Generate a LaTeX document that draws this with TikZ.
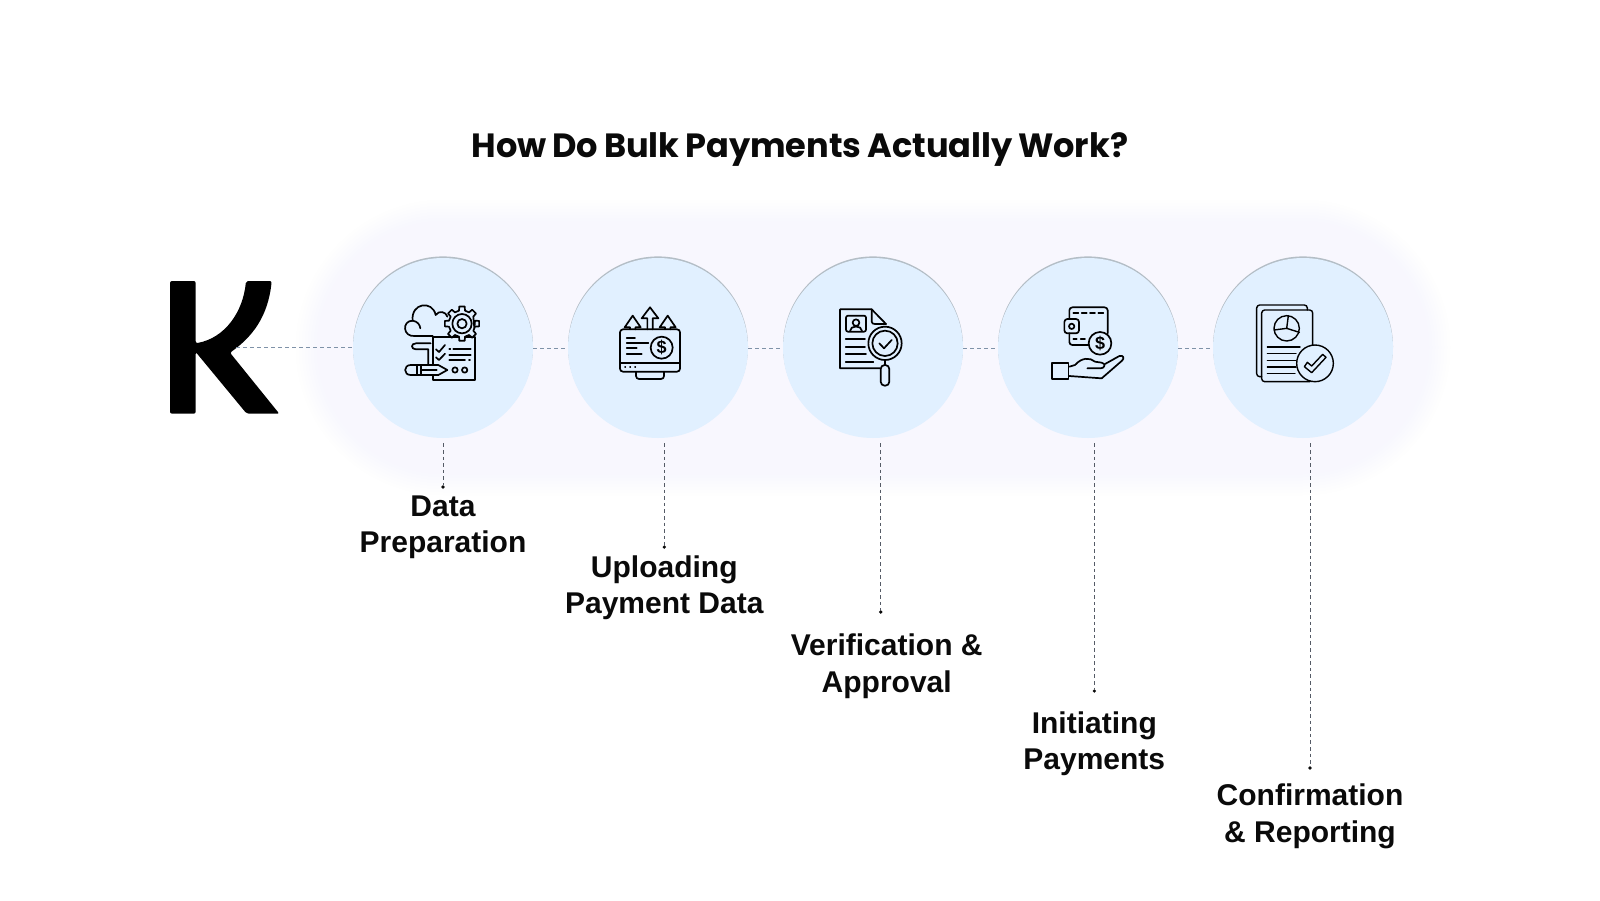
\documentclass[tikz,border=0pt]{standalone}
\usepackage{fontspec}
\usetikzlibrary{positioning}
\newfontfamily\titlefont[WordSpace=0.8]{Poppins}
\newfontfamily\labelfont{Liberation Sans}
\definecolor{bubblefill}{HTML}{E1F0FF}
\definecolor{bubblerim}{HTML}{B4BEC6}
\definecolor{glowfill}{HTML}{F8F7FE}
\definecolor{linkgray}{HTML}{7F92A8}
\definecolor{dropgray}{HTML}{555B66}
\definecolor{inkblack}{HTML}{0A0A0A}
\tikzset{
  bubble/.style={circle,minimum size=90pt,inner sep=0pt,fill=bubblefill,
    preaction={fill=bubblerim,transform canvas={yshift=0.8pt}}},
  link/.style={draw=linkgray,line width=0.45pt,dash pattern=on 2pt off 1.5pt},
  droplink/.style={draw=dropgray,line width=0.45pt,dash pattern=on 1.8pt off 1.5pt,shorten <=2.5pt},
  dotmark/.style={circle,fill=inkblack,minimum size=1.8pt,inner sep=0pt},
  steplabel/.style={font=\labelfont\bfseries\fontsize{15}{18.3}\selectfont,
    text=inkblack,align=center,inner sep=0pt},
  icon/.style={x=0.16667pt,y=-0.16667pt,draw=black,line width=0.85pt,
    line join=round,line cap=round},
  coin/.style={font=\labelfont\bfseries\fontsize{9}{9}\selectfont,inner sep=0pt}
}
\begin{document}
\begin{tikzpicture}[x=0.5pt,y=-0.5pt]
      \useasboundingbox (0,0) rectangle (1600,900);
      \fill[white] (0,0) rectangle (1600,900);
      \foreach \g [evaluate=\g as \r using 74-\g*1.5] in {0,...,29}
        \fill[glowfill,opacity=0.07,rounded corners=\r pt]
          (296+\g*3,200+\g*3) rectangle (1450-\g*3,495-\g*3);

      \fill[black,rounded corners=1pt]
        (170,281) -- (195.7,281) -- (195.7,343.3)
        .. controls (225,338) and (243,312) .. (246,281) -- (271.7,281)
        .. controls (268,317) and (252,337) .. (230,352.7)
        -- (279.3,413.7) -- (246.7,413.7) -- (195.7,352) -- (195.7,413.7)
        -- (170,413.7) -- cycle;
      \coordinate (logo) at (236,347.5);

      \node (c1) [bubble] at (443,348) {};
      \node (c2) [bubble] at (658,348) {};
      \node (c3) [bubble] at (873,348) {};
      \node (c4) [bubble] at (1088,348) {};
      \node (c5) [bubble] at (1303,348) {};

      \node (d1) [dotmark] at (443,487) {};
      \node (d2) [dotmark] at (664.3,547) {};
      \node (d3) [dotmark] at (880.7,612) {};
      \node (d4) [dotmark] at (1094.3,691) {};
      \node (d5) [dotmark] at (1310,768) {};

      \node (title) [anchor=base,font=\titlefont\bfseries\fontsize{16.8}{20}\selectfont,
        text=inkblack,inner sep=0pt] at (800,157) {How Do Bulk Payments Actually Work?};

      \node (t1) [steplabel,below=2.9pt of d1] {Data\\Preparation};
      \node (t2) [steplabel,below=2.9pt of d2] {Uploading\\Payment Data};
      \node (t3) [steplabel,below=9.7pt of d3,xshift=3pt] {Verification \&\\Approval};
      \node (t4) [steplabel,below=8.9pt of d4] {Initiating\\Payments};
      \node (t5) [steplabel,below=6.7pt of d5] {Confirmation\\\& Reporting};

      \begin{scope}[link]
        \draw (logo) to (logo -| c1.west);
        \draw (c1.east) to (c2.west);
        \draw (c2.east) to (c3.west);
        \draw (c3.east) to (c4.west);
        \draw (c4.east) to (c5.west);
      \end{scope}
      \begin{scope}[droplink]
        \draw (d1 |- c1.south) to (d1);
        \draw (d2 |- c2.south) to (d2);
        \draw (d3 |- c3.south) to (d3);
        \draw (d4 |- c4.south) to (d4);
        \draw (d5 |- c5.south) to (d5);
      \end{scope}

      \begin{scope}[shift={(340,250)},icon]
        \draw (278,262) -- (405,262) -- (405,390) -- (278,390) -- (278,375);
        \draw (278,262) -- (278,345);
        \draw (225,258) .. controls (188,262) and (185,212) .. (218,212)
          .. controls (212,158) and (278,150) .. (287,195)
          .. controls (297,180) and (318,185) .. (322,200);
        \draw (218,212) .. controls (232,214) and (240,224) .. (241,235);
        \draw (225,258) -- (278,258);
        \draw (272,280) -- (228,280) .. controls (212,280) and (212,298) .. (228,298)
          -- (265,298) -- (265,345);
        \draw (288,298) -- (297,306) -- (315,285);
        \draw (288,322) -- (297,330) -- (315,311);
        \draw (340,298) -- (392,298);
        \draw (328,298) -- (331,298);
        \draw (328,315) -- (392,315);
        \draw (328,331) -- (375,331);
        \draw (387,331) -- (390,331);
        \draw (345,360) circle (8);
        \draw (374,360) circle (8);
        \draw[fill=bubblefill] (212,345) -- (295,345) -- (322,360) -- (295,375) -- (212,375)
          .. controls (190,375) and (190,345) .. (212,345) -- cycle;
        \draw (230,345) -- (230,375);
        \draw (243,345) -- (243,375);
        \draw (243,360) -- (290,360);
        \begin{scope}[shift={(366,221)}]
          \draw[fill=bubblefill] (22:40) \foreach \a in {0,45,...,315} {
            -- (\a-13:40) -- (\a-9:52) -- (\a+9:52) -- (\a+13:40)} -- cycle;
          \draw (0,0) circle (29);
          \draw (0,0) circle (14);
        \end{scope}

        \draw[rounded corners=1.5pt] (840,238) rectangle (1020,365);
        \draw (840,340) -- (1020,340);
        \draw (855,352) -- (856,352);
        \draw (870,352) -- (871,352);
        \draw (885,352) -- (886,352);
        \draw[rounded corners=1.5pt] (888,365) -- (888,387) -- (972,387) -- (972,365);
        \draw (965,293) circle (33);
        \node (s2) [coin] at (965,293) {\$};
        \draw (860,263) -- (885,263);
        \draw (860,278) -- (925,278);
        \draw (860,295) -- (890,295);
        \draw (860,313) -- (905,313);
        \draw (922,238) -- (922,205) -- (905,205) -- (930,172) -- (955,205) -- (938,205) -- (938,238);
        \draw (870,238) -- (870,232) -- (854,232) -- (878,197) -- (902,232) -- (886,232) -- (886,238);
        \draw (975,238) -- (975,232) -- (959,232) -- (983,197) -- (1007,232) -- (991,232) -- (991,238);
      \end{scope}

      \begin{scope}[shift={(780,250)},icon]
        \draw (300,355) -- (180,355) -- (180,178) -- (275,178) -- (318,222);
        \draw (275,178) -- (275,215) .. controls (275,220) and (280,222) .. (285,222) -- (318,222);
        \draw[rounded corners=1pt] (198,197) rectangle (258,245);
        \draw (228,218) circle (10);
        \draw (210,243) .. controls (210,225) and (246,225) .. (246,243);
        \draw (197,268) -- (255,268);
        \draw (197,290) -- (255,290);
        \draw (197,312) -- (258,312);
        \draw (197,335) -- (280,335);
        \draw[fill=bubblefill] (315,280) circle (50);
        \draw (315,280) circle (38);
        \draw (298,280) -- (312,295) -- (335,270);
        \draw (315,330) -- (315,345);
        \draw[rounded corners=2pt] (302,345) -- (328,345) -- (328,407) -- (302,407) -- cycle;

        \draw[rounded corners=1.5pt] (868,207) -- (868,172) -- (983,172) -- (983,250);
        \draw[rounded corners=1.5pt] (868,250) -- (868,285) -- (930,285);
        \draw (880,188) -- (895,188);
        \draw (905,188) -- (920,188);
        \draw (930,188) -- (945,188);
        \draw (955,188) -- (970,188);
        \draw[rounded corners=1.5pt] (868,207) -- (853,207) -- (853,250) -- (897,250) -- (897,207) -- (868,207);
        \draw (875,229) circle (8);
        \draw (880,268) -- (890,268);
        \draw (902,268) -- (915,268);
        \draw[fill=bubblefill] (960,280) circle (34);
        \node (s4) [coin] at (960,280) {\$};
        \draw (815,338) rectangle (865,387);
        \draw (868,350) -- (885,345) .. controls (905,322) and (930,322) .. (945,335)
          -- (965,338) .. controls (978,340) and (975,355) .. (962,355) -- (922,355);
        \draw (975,342) -- (1018,318) .. controls (1030,314) and (1034,325) .. (1026,332)
          -- (965,385) -- (868,378);

      \end{scope}

      \begin{scope}[shift={(1200,250)},icon,line width=0.7pt]
        \draw[rounded corners=1.5pt] (322,180) -- (322,165) -- (170,165) -- (170,380) -- (185,380);
        \draw[rounded corners=1.5pt] (338,292) -- (338,180) -- (185,180) -- (185,395) -- (330,395);
        \draw (260,235) circle (38);
        \draw (265,197) -- (260,235) -- (298,247);
        \draw (260,235) -- (222,240);
        \draw (202,291) -- (300,291);
        \draw (202,311) -- (288,311);
        \draw (202,331) -- (288,331);
        \draw (202,351) -- (288,351);
        \draw (202,371) -- (285,371);
        \draw[fill=bubblefill] (345,340) circle (55);
        \draw (313,350) -- (322,337) -- (335,348) -- (368,313) -- (378,322) -- (335,368) -- cycle;
      \end{scope}
    \end{tikzpicture}
\end{document}
